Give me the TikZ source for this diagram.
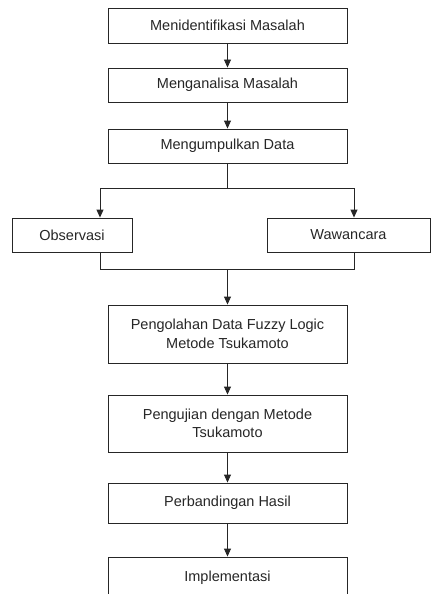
\documentclass[tikz,border=0pt]{standalone}
\usepackage{fontspec}
\setmainfont{Liberation Sans}
\usetikzlibrary{arrows.meta}
\begin{document}
\begin{tikzpicture}[x=1pt,y=-1pt,
  box/.style={draw=black!85, line width=0.9pt, rectangle, inner sep=0pt, align=center,
    font=\fontsize{14.5}{18.5}\selectfont, text=black!85},
  arr/.style={draw=black!85, line width=0.9pt, -{Triangle[length=8pt,width=7pt]}},
  ln/.style={draw=black!85, line width=0.9pt}]
\useasboundingbox (0,0) rectangle (433,594);
\node[box, minimum width=239pt, minimum height=35pt] (b1) at (227.5,25.5) {Menidentifikasi Masalah};
\node[box, minimum width=239pt, minimum height=34pt] (b2) at (227.5,85) {Menganalisa Masalah};
\node[box, minimum width=239pt, minimum height=34pt] (b3) at (227.5,146) {Mengumpulkan Data};
\node[box, minimum width=120pt, minimum height=34pt] (obs) at (72,235) {Observasi};
\node[box, minimum width=163pt, minimum height=34pt] (wwc) at (348.5,235) {Wawancara};
\node[box, minimum width=239pt, minimum height=58pt] (p1) at (227.5,334) {Pengolahan Data Fuzzy Logic\\Metode Tsukamoto};
\node[box, minimum width=239pt, minimum height=57pt] (p2) at (227.5,423.5) {Pengujian dengan Metode\\Tsukamoto};
\node[box, minimum width=239pt, minimum height=40pt] (p3) at (227.5,503) {Perbandingan Hasil};
\node[box, minimum width=239pt, minimum height=42pt] (p4) at (227.5,578) {Implementasi};
\coordinate (br) at (227.5,188);
\coordinate (mg) at (227.5,269);
\coordinate (ox) at (100,0);
\coordinate (wx) at (354,0);
\draw[arr] (b1) -- (b2);
\draw[arr] (b2) -- (b3);
\draw[ln] (b3) -- (br);
\draw[arr] (br) -| (obs.north -| ox);
\draw[arr] (br) -| (wwc.north -| wx);
\draw[ln] (obs.south -| ox) |- (mg);
\draw[ln] (wwc.south -| wx) |- (mg);
\draw[arr] (mg) -- (p1);
\draw[arr] (p1) -- (p2);
\draw[arr] (p2) -- (p3);
\draw[arr] (p3) -- (p4);
\end{tikzpicture}
\end{document}
